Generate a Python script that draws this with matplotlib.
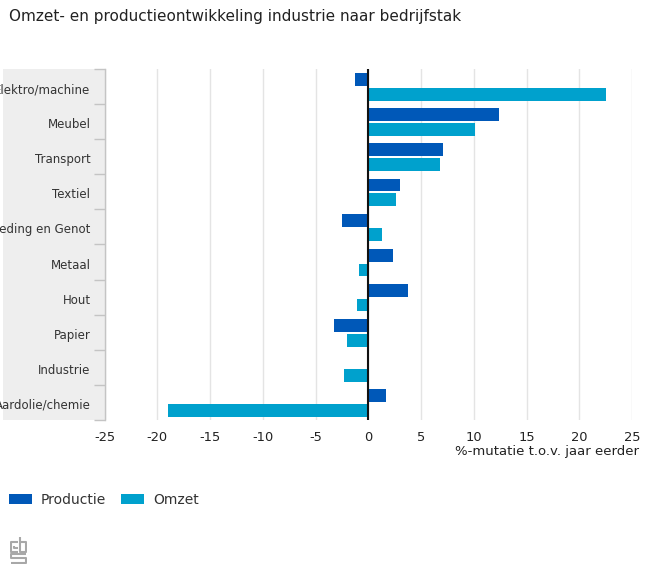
import numpy as np
from matplotlib import pyplot as plt
from matplotlib.patches import Rectangle

plt.rcParams['axes.unicode_minus'] = False

categories = ['Elektro/machine','Meubel','Transport','Textiel','Voeding en Genot',
              'Metaal','Hout','Papier','Industrie','Aardolie/chemie']
productie = [-1.3,12.4,7.1,3.0,-2.5,2.3,3.8,-3.2,0.0,1.7]
omzet = [22.5,10.1,6.8,2.6,1.3,-0.9,-1.1,-2.0,-2.3,-19.0]
xticks = [-25,-20,-15,-10,-5,0,5,10,15,20,25]

W,H = 650.,582.
DARK = '#0058b8'
LIGHT = '#00a1cd'
TXT = '#333333'

fig = plt.figure(figsize=(6.5,5.82),dpi=100)
ax = fig.add_axes([104.5/W,1-420/H,527.5/W,351/H])

y = np.arange(len(categories))
ax.barh(y-0.195,productie,height=0.365,color=DARK,label='Productie',zorder=3)
ax.barh(y+0.226,omzet,height=0.365,color=LIGHT,label='Omzet',zorder=3)
# negative bars stop just short of the zero line
ax.axvspan(-0.15,0,color='white',lw=0,zorder=3.5)
ax.axvline(0,color='#111111',lw=1.5,zorder=4)

ax.set_xlim(-25,25)
ax.set_ylim(len(categories)-0.5,-0.5)
ax.set_xticks(xticks)
ax.grid(axis='x',color='#e4e4e4',lw=1,zorder=0)
ax.tick_params(axis='x',length=0,pad=8,labelsize=9.4,labelcolor='#222222')
for s in ['top','right','bottom']:
    ax.spines[s].set_visible(False)
ax.spines['left'].set_color('#c4c4c4')
ax.spines['left'].set_linewidth(1)

# grey label band left of the axis, with the category ticks
fig.add_artist(Rectangle((3/W,1-420/H),101.5/W,351/H,transform=fig.transFigure,
                         facecolor='#eeeeee',edgecolor='none',zorder=-1))
ax.set_yticks(np.arange(-0.5,len(categories)))
ax.set_yticklabels([])
ax.tick_params(axis='y',length=8,width=1,color='#c4c4c4')
for i,c in enumerate(categories):
    ax.annotate(c,xy=(0,i),xycoords=('axes fraction','data'),xytext=(-14,-3),
                textcoords='offset pixels',ha='right',va='center',fontsize=8.5,color=TXT,
                annotation_clip=False)

fig.text(9/W,1-16/H,'Omzet- en productieontwikkeling industrie naar bedrijfstak',
         fontsize=11,color='#222222',va='center',ha='left')
fig.text(639/W,1-452/H,'%-mutatie t.o.v. jaar eerder',fontsize=9.5,color='#222222',
         va='center',ha='right')

h,l = ax.get_legend_handles_labels()
leg = fig.legend(h,l,loc='center left',bbox_to_anchor=(-4/W,1-500/H),ncol=2,frameon=False,
                 fontsize=10,handlelength=1.66,handleheight=0.7,handletextpad=0.65,
                 columnspacing=1.08,labelcolor=TXT)

# cbs logo
logo = fig.add_axes([10/W,1-564/H,17/W,27/H])
logo.set_xlim(0,17)
logo.set_ylim(27,0)
logo.axis('off')
parts = [[(8,5),(1,5),(1,15),(8,15)],[(4,9),(4,11),(8,11)],
         [(10,0),(10,15),(16,15),(16,5),(10,5)],
         [(16,17),(1,17),(1,21),(16,21),(16,26),(1,26)]]
for p in parts:
    xs,ys = zip(*p)
    logo.plot(xs,ys,color='#a8a8a8',lw=1.5,solid_capstyle='butt')

plt.savefig('out.png',dpi=100)
